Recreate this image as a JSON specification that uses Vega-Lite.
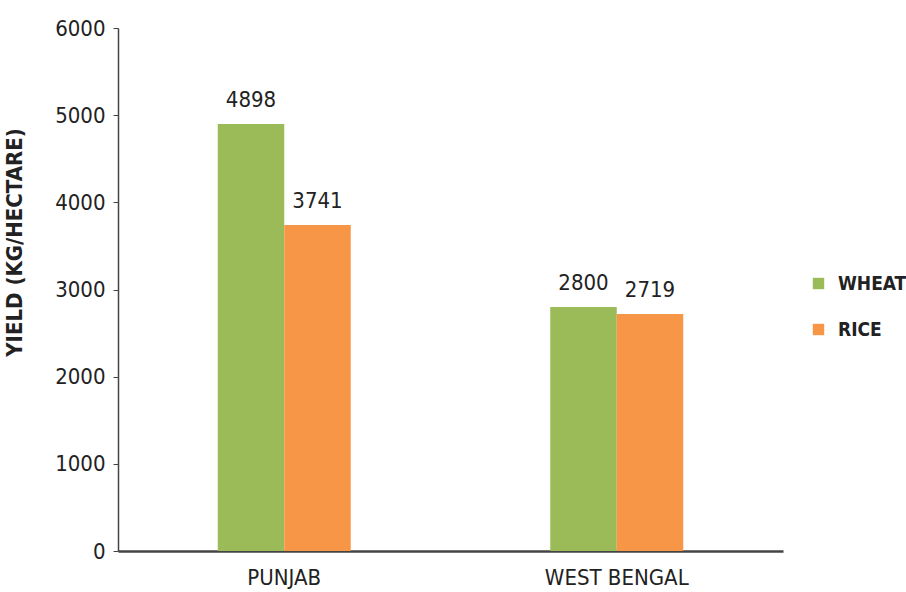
{
  "$schema": "https://vega.github.io/schema/vega-lite/v6.json",
  "width": 665,
  "height": 523,
  "autosize": {"type": "none"},
  "padding": {"left": 118, "top": 28, "right": 123, "bottom": 41},
  "background": "white",
  "config": {"view": {"stroke": null}, "font": "DejaVu Sans Condensed"},
  "data": {"values": [
    {"state": "PUNJAB", "crop": "WHEAT", "yield": 4898},
    {"state": "PUNJAB", "crop": "RICE", "yield": 3741},
    {"state": "WEST BENGAL", "crop": "WHEAT", "yield": 2800},
    {"state": "WEST BENGAL", "crop": "RICE", "yield": 2719}
  ]},
  "encoding": {
    "x": {"field": "state", "type": "nominal", "sort": null,
      "scale": {"paddingInner": 0.6, "paddingOuter": 0.3},
      "axis": {"title": null, "labelAngle": 0, "ticks": false, "labelFontSize": 22, "labelColor": "#222", "labelPadding": 16, "domainColor": "#444", "domainWidth": 2.5, "labelFont": "DejaVu Sans Condensed"}},
    "xOffset": {"field": "crop", "type": "nominal", "sort": ["WHEAT", "RICE"], "scale": {"paddingInner": 0}},
    "y": {"field": "yield", "type": "quantitative",
      "scale": {"domain": [0, 6000], "nice": false},
      "axis": {"values": [0, 1000, 2000, 3000, 4000, 5000, 6000], "format": "d", "grid": false, "title": "YIELD (KG/HECTARE)", "titleFontSize": 22, "titleFontWeight": "bold", "titleColor": "#222", "titleAngle": -90, "titleX": -92, "titleY": 214, "titleFont": "DejaVu Sans Condensed", "labelFontSize": 22, "labelColor": "#222", "labelPadding": 8, "tickSize": 5, "tickColor": "#444", "domainColor": "#444", "domainWidth": 1.5, "labelFont": "DejaVu Sans Condensed"}}
  },
  "layer": [
    {
      "mark": {"type": "bar"},
      "encoding": {
        "color": {"field": "crop", "type": "nominal", "sort": ["WHEAT", "RICE"],
          "scale": {"domain": ["WHEAT", "RICE"], "range": ["#9BBB59", "#F79646"]},
          "legend": {"title": null, "orient": "none", "legendX": 691, "legendY": 246, "symbolType": "square", "symbolSize": 130, "labelFontSize": 19, "labelFontWeight": "bold", "labelColor": "#222", "rowPadding": 26, "labelOffset": 10, "labelFont": "DejaVu Sans Condensed"}}
      }
    },
    {
      "mark": {"type": "text", "baseline": "bottom", "dy": -12, "fontSize": 22, "color": "#222", "font": "DejaVu Sans Condensed"},
      "encoding": {"text": {"field": "yield", "type": "quantitative"}}
    }
  ]
}
